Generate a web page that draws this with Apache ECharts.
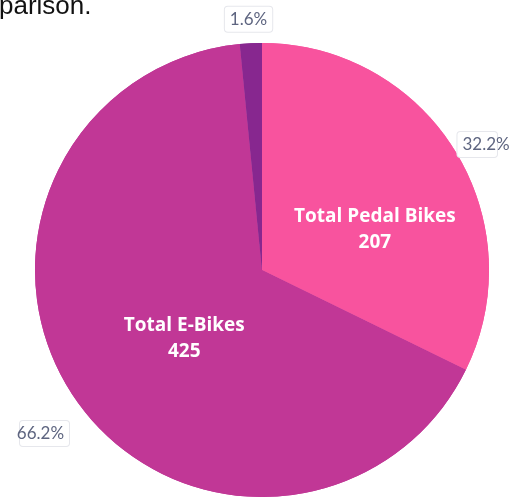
<!DOCTYPE html>
<html>
<head>
<meta charset="utf-8">
<script src="https://cdn.jsdelivr.net/npm/echarts@6/dist/echarts.min.js"></script>
<style>
  html, body { margin: 0; padding: 0; background: #fff; }
  #chart { width: 521px; height: 498px; }
</style>
</head>
<body>
<div id="chart"></div>
<script>
// bike counts, clockwise from 12 o'clock
var categories = ["Total Pedal Bikes", "Total E-Bikes", "Other"];
var counts = [207, 425, 10];
var sliceColors = ["#F8539E", "#C13796", "#87278F"];

var pieData = categories.map(function (name, i) {
  return { name: name, value: counts[i], itemStyle: { color: sliceColors[i] } };
});

var chart = echarts.init(document.getElementById("chart"));
chart.setOption({
  animation: false,
  graphic: [
    {
      type: "text",
      left: -1,
      top: -6,
      style: {
        text: "parison.",
        fontSize: 26,
        fontFamily: "Liberation Sans",
        fill: "#111"
      }
    }
  ],
  series: [
    {
      // slices + inner labels
      type: "pie",
      center: [262, 270],
      radius: [0, 227],
      startAngle: 90,
      clockwise: true,
      data: pieData,
      label: {
        position: "inside",
        color: "#fff",
        fontFamily: "Open Sans",
        fontWeight: "bold",
        fontSize: 19,
        lineHeight: 26,
        formatter: function (p) {
          return p.dataIndex < 2 ? p.name + "\n" + p.value : "";
        }
      },
      labelLayout: function (p) {
        if (p.dataIndex === 0) return { dx: 14, dy: 21 };
        if (p.dataIndex === 1) return { dx: 18, dy: 2 };
      },
      labelLine: { show: false },
      emphasis: { disabled: true }
    },
    {
      // percentage labels outside
      type: "pie",
      silent: true,
      center: [262, 270],
      radius: [0, 227],
      startAngle: 90,
      clockwise: true,
      data: pieData,
      itemStyle: { color: "transparent" },
      label: {
        position: "outside",
        overflow: "none",
        color: "#5E6580",
        fontFamily: "Lato",
        fontSize: 17,
        backgroundColor: "#fff",
        borderColor: "#E6E7EC",
        borderWidth: 1,
        borderRadius: 3,
        padding: [4, 5],
        formatter: function (p) {
          return p.percent.toFixed(1) + "%";
        }
      },
      labelLayout: function (p) {
        if (p.dataIndex === 0) return { dx: -14, dy: 2 };
        if (p.dataIndex === 1) return { dx: 10, dy: 26 };
        if (p.dataIndex === 2) return { dx: 27, dy: -10 };
      },
      labelLine: { show: false, length: 14, length2: 0 },
      emphasis: { disabled: true }
    }
  ]
});
</script>
</body>
</html>
